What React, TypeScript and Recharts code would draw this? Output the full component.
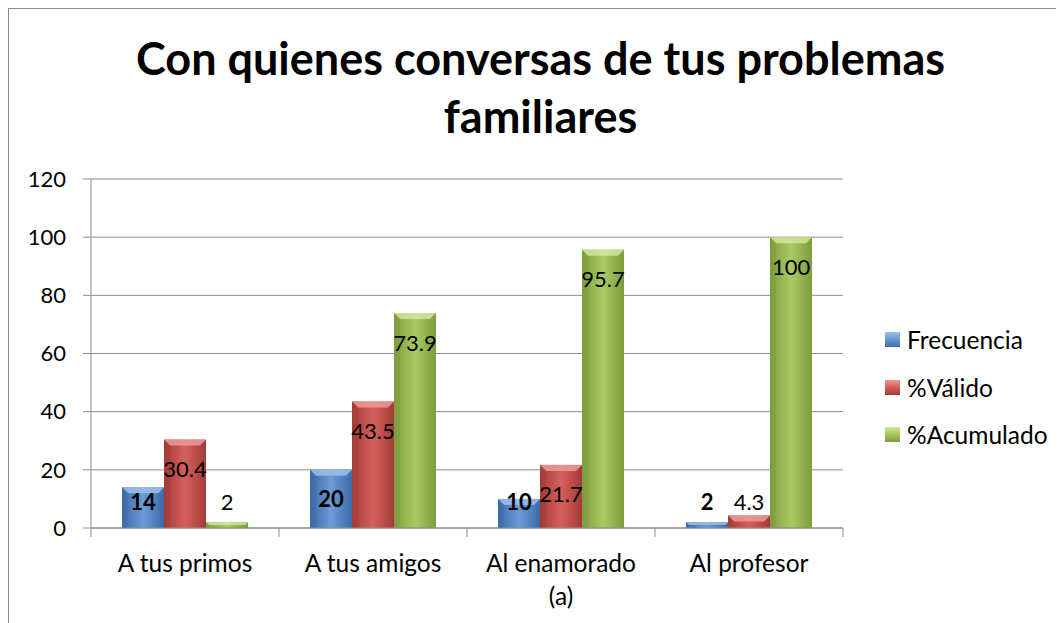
import { BarChart, Bar, XAxis, YAxis, CartesianGrid, Legend, LabelList } from 'recharts';

const categories = ['A tus primos', 'A tus amigos', 'Al enamorado\n(a)', 'Al profesor'];
const frecuencia = [14, 20, 10, 2];
const valido = [30.4, 43.5, 21.7, 4.3];
const acumulado = [2, 73.9, 95.7, 100];
const yTicks = [0, 20, 40, 60, 80, 100, 120];

const data = categories.map((name, i) => ({
  name,
  frecuencia: frecuencia[i],
  valido: valido[i],
  acumulado: acumulado[i],
}));

const FONT = 'Lato, "Noto Sans", sans-serif';
const GRID = '#8c8c8c';

const series = [
  { key: 'frecuencia', name: 'Frecuencia', id: 'gBlue', edge: '#3b6aa6', mid: '#6d9bd6', top: '#9cc0ec', bold: true },
  { key: 'valido', name: '%Válido', id: 'gRed', edge: '#a33b38', mid: '#d6605c', top: '#ec9a97', bold: false },
  { key: 'acumulado', name: '%Acumulado', id: 'gGreen', edge: '#7d9c3e', mid: '#a9cb62', top: '#cfe79b', bold: false },
];

function bevelShape(s: typeof series[number]) {
  return (props: any) => {
    const { x, y, width, height } = props;
    if (!height || height <= 0) return <g />;
    const b = Math.min(6, height / 2);
    return (
      <g>
        <rect x={x} y={y} width={width} height={height} fill={`url(#${s.id})`} />
        <polygon points={`${x},${y} ${x + width},${y} ${x + width - b},${y + b} ${x + b},${y + b}`} fill={s.top} opacity={0.85} />
        <polygon points={`${x},${y} ${x + b},${y + b} ${x + b},${y + height} ${x},${y + height}`} fill={s.edge} opacity={0.35} />
      </g>
    );
  };
}

function makeLabel(bold: boolean) {
  return (props: any) => {
    const { x, y, width, height, value } = props;
    const base = y + height;
    const cy = Math.min(y + 29, base - 27);
    return (
      <text x={x + width / 2} y={cy} textAnchor="middle" dominantBaseline="central" fontFamily={FONT} fontSize={22} fontWeight={bold ? 700 : 400} fill="#000">
        {value}
      </text>
    );
  };
}

function CategoryTick(props: any) {
  const { x, y, payload, index, visibleTicksCount, width } = props;
  const count = visibleTicksCount || categories.length;
  const band = (width || 752) / count;
  const lines = String(payload.value).split('\n');
  return (
    <g>
      <line x1={x - band / 2} y1={y} x2={x - band / 2} y2={y + 9} stroke={GRID} />
      {index === count - 1 && <line x1={x + band / 2} y1={y} x2={x + band / 2} y2={y + 9} stroke={GRID} />}
      {lines.map((l, i) => (
        <text key={i} x={x} y={y + 34 + i * 33} textAnchor="middle" dominantBaseline="central" fontFamily={FONT} fontSize={24.5} fill="#000">
          {l}
        </text>
      ))}
    </g>
  );
}

function LegendContent() {
  return (
    <div style={{ fontFamily: FONT, fontSize: 24.5, color: '#000' }}>
      {series.map((s) => (
        <div key={s.key} style={{ display: 'flex', alignItems: 'center', height: 47.5 }}>
          <div style={{ width: 15, height: 15, marginRight: 7, background: `linear-gradient(180deg, ${s.top}, ${s.mid} 45%, ${s.edge})` }} />
          <span>{s.name}</span>
        </div>
      ))}
    </div>
  );
}

export default function App() {
  return (
    <div style={{ position: 'relative', width: 1056, height: 615, boxSizing: 'border-box', borderLeft: `1px solid ${GRID}`, borderTop: `1px solid ${GRID}`, overflow: 'hidden' }}>
      <div style={{ position: 'absolute', left: 0, top: 20, width: 1063, textAlign: 'center', fontFamily: FONT, fontWeight: 700, fontSize: 45, lineHeight: '58px', color: '#000' }}>
        Con quienes conversas de tus problemas
        <br />
        familiares
      </div>
      <div style={{ position: 'absolute', left: 0, top: 0 }}>
        <BarChart width={1055} height={614} data={data} margin={{ top: 170, right: 221, bottom: 15, left: 22 }} barCategoryGap="16.5%" barGap={0}>
          <defs>
            {series.map((s) => (
              <linearGradient key={s.id} id={s.id} x1="0" y1="0" x2="1" y2="0">
                <stop offset="0%" stopColor={s.edge} />
                <stop offset="50%" stopColor={s.mid} />
                <stop offset="100%" stopColor={s.edge} />
              </linearGradient>
            ))}
          </defs>
          <CartesianGrid vertical={false} stroke={GRID} />
          <XAxis dataKey="name" height={80} tickSize={0} tickMargin={0} tickLine={false} axisLine={{ stroke: GRID }} tick={<CategoryTick />} interval={0} />
          <YAxis width={60} domain={[0, 120]} ticks={yTicks} tickSize={8} tickMargin={17} axisLine={{ stroke: GRID }} tickLine={{ stroke: GRID }} tick={{ fontFamily: FONT, fontSize: 22, fill: '#000' }} />
          <Legend layout="vertical" align="center" verticalAlign="middle" content={<LegendContent />} wrapperStyle={{ left: 876, top: 307, width: 180 }} />
          {series.map((s) => (
            <Bar key={s.key} dataKey={s.key} name={s.name} fill={s.mid} shape={bevelShape(s)} isAnimationActive={false}>
              <LabelList dataKey={s.key} content={makeLabel(s.bold)} />
            </Bar>
          ))}
        </BarChart>
      </div>
    </div>
  );
}
